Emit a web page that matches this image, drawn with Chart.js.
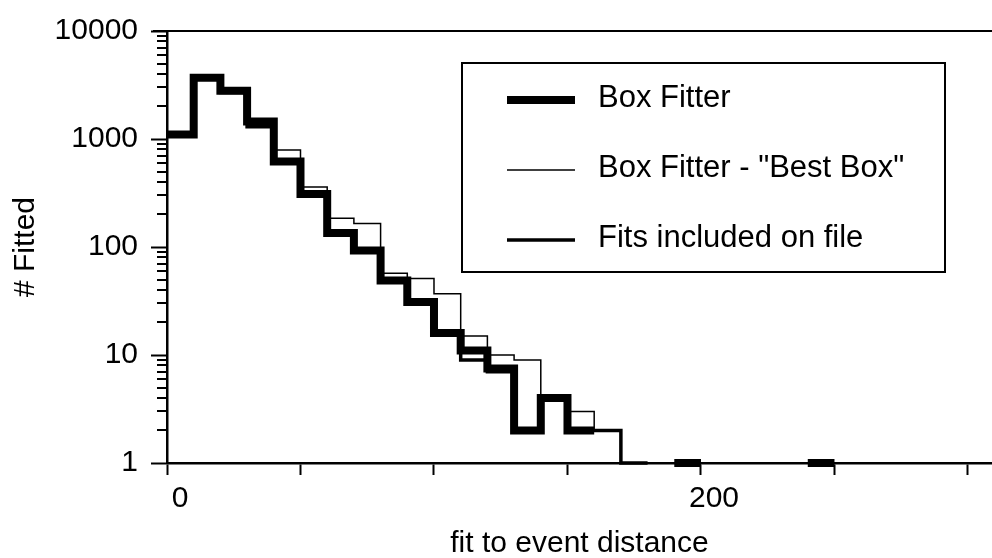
<!DOCTYPE html>
<html>
<head>
<meta charset="utf-8">
<script src="https://cdn.jsdelivr.net/npm/chart.js@4.4.1/dist/chart.umd.min.js"></script>
<style>
  html, body { margin: 0; padding: 0; background: #fff; }
  #wrap { width: 992px; height: 558px; }
</style>
</head>
<body>
<div id="wrap"><canvas id="chart"></canvas></div>
<script>
// bin edges (fit to event distance), 10 units wide
const binEdges = [0, 10, 20, 30, 40, 50, 60, 70, 80, 90, 100, 110, 120, 130, 140, 150, 160, 170, 180, 190, 200, 210, 220, 230, 240, 250];

// counts per bin, null = nothing drawn; the last bins sit on the axis (1)
const boxFitter = [1100, 3700, 2800, 1450, 620, 310, 135, 93, 49, 31, 16, 11, 7.5, 2, 4, 2, null, null, null, 1, null, null, null, null, 1];
const bestBox = [1100, 3700, 2800, 1500, 790, 360, 185, 165, 57, 51, 37, 15, 10, 9, 4, 3, 2, 1];
const fitsOnFile = [1100, 3600, 2700, 1300, 600, 300, 130, 90, 48, 30, 16, 9, 7, 2, 4, 2, 2, 1];

const xTicks = [0, 50, 100, 150, 200, 250, 300];
const xTickLabels = [0, 200];
const yTickLabels = [1, 10, 100, 1000, 10000];

const FONT = '"Liberation Sans", Arial, Helvetica, sans-serif';

// turn bin counts into a step outline
function outline(counts) {
    const pts = [];
    counts.forEach((c, i) => {
        if (c === null) {
            pts.push({ x: binEdges[i], y: null });
            return;
        }
        pts.push({ x: binEdges[i], y: c }, { x: binEdges[i + 1], y: c });
    });
    return pts;
}

const frameAndLegend = {
    id: 'frameAndLegend',
    afterDraw(chart) {
        const { ctx, chartArea: a, scales: { y } } = chart;
        ctx.save();
        ctx.strokeStyle = '#000';
        ctx.fillStyle = '#000';

        // top frame line
        ctx.lineWidth = 2;
        ctx.beginPath();
        ctx.moveTo(a.left - 14, a.top);
        ctx.lineTo(a.right, a.top);
        ctx.stroke();

        // short minor ticks on the log axis
        y.ticks.forEach(t => {
            if (yTickLabels.includes(t.value)) return;
            const py = Math.round(y.getPixelForValue(t.value));
            ctx.beginPath();
            ctx.moveTo(a.left - 10, py);
            ctx.lineTo(a.left, py);
            ctx.stroke();
        });

        // legend box
        ctx.lineWidth = 2;
        ctx.strokeRect(462, 63, 483, 209);
        ctx.font = '31px ' + FONT;
        ctx.textBaseline = 'middle';
        ctx.textAlign = 'left';
        chart.data.datasets.forEach((ds, i) => {
            const ly = 100 + i * 70;
            ctx.lineWidth = ds.borderWidth;
            ctx.lineCap = 'butt';
            ctx.beginPath();
            ctx.moveTo(507, ly);
            ctx.lineTo(575, ly);
            ctx.stroke();
            ctx.fillText(ds.label, 598, ly - 2);
        });
        ctx.restore();
    }
};

const common = {
    borderColor: '#000',
    pointRadius: 0,
    tension: 0,
    spanGaps: false,
    fill: false,
    clip: false,
    borderCapStyle: 'butt',
    borderJoinStyle: 'miter'
};

new Chart(document.getElementById('chart'), {
    type: 'line',
    data: {
        datasets: [
            { ...common, label: 'Box Fitter', data: outline(boxFitter), borderWidth: 8 },
            { ...common, label: 'Box Fitter - "Best Box"', data: outline(bestBox), borderWidth: 1.5 },
            { ...common, label: 'Fits included on file', data: outline(fitsOnFile), borderWidth: 3.5 }
        ]
    },
    options: {
        responsive: true,
        maintainAspectRatio: false,
        animation: false,
        layout: { padding: { top: 28, right: 0, bottom: 0, left: 0 } },
        plugins: { legend: { display: false }, tooltip: { enabled: false } },
        scales: {
            x: {
                type: 'linear',
                min: 0,
                max: 309,
                afterBuildTicks: s => { s.ticks = xTicks.map(v => ({ value: v })); },
                afterFit: s => { s.height = 95; },
                grid: { drawOnChartArea: false, tickLength: 12, tickWidth: 2, tickColor: '#000' },
                border: { color: '#000', width: 2.5 },
                ticks: {
                    autoSkip: false,
                    maxRotation: 0,
                    labelOffset: 13,
                    padding: 6,
                    color: '#000',
                    font: { family: FONT, size: 30 },
                    callback: v => xTickLabels.includes(v) ? String(v) : ''
                },
                title: {
                    display: true,
                    text: 'fit to event distance',
                    color: '#000',
                    font: { family: FONT, size: 30 },
                    padding: { top: 0, bottom: -4 }
                }
            },
            y: {
                type: 'logarithmic',
                min: 1,
                max: 10000,
                afterBuildTicks: s => {
                    const t = [];
                    for (let d = 1; d < 10000; d *= 10) {
                        for (let m = 1; m < 10; m++) t.push({ value: m * d });
                    }
                    t.push({ value: 10000 });
                    s.ticks = t;
                },
                afterFit: s => { s.width = 167; },
                grid: {
                    drawOnChartArea: false,
                    tickLength: 16,
                    tickWidth: 2,
                    tickColor: ctx => yTickLabels.includes(ctx.tick.value) ? '#000' : 'rgba(0,0,0,0)'
                },
                border: { color: '#000', width: 2.5 },
                ticks: {
                    autoSkip: false,
                    padding: 13,
                    color: '#000',
                    font: { family: FONT, size: 30 },
                    callback: v => yTickLabels.includes(v) ? String(v) : ''
                },
                title: {
                    display: true,
                    text: '# Fitted',
                    color: '#000',
                    font: { family: FONT, size: 30 },
                    padding: { top: 8, bottom: 0 }
                }
            }
        }
    },
    plugins: [frameAndLegend]
});
</script>
</body>
</html>
